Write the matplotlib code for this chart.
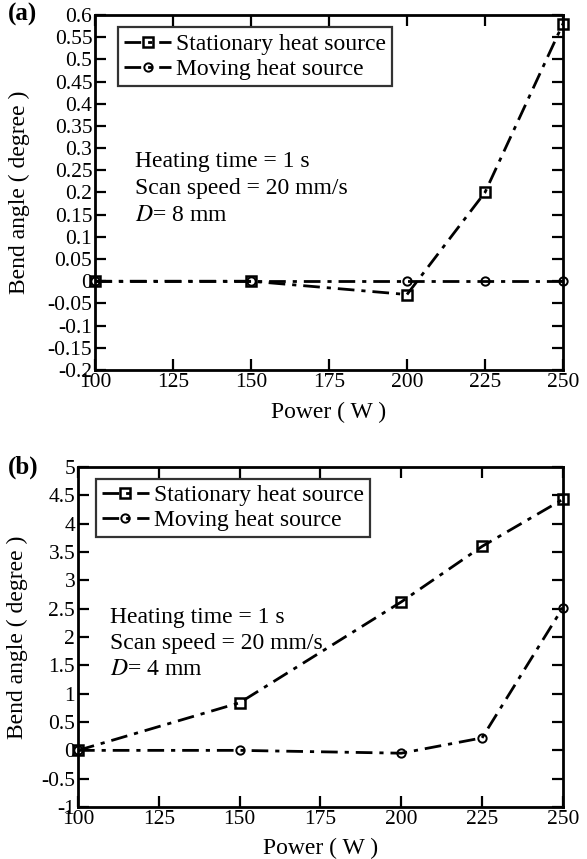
import numpy as np
import matplotlib
matplotlib.use("Agg")
import matplotlib.pyplot as plt
from matplotlib.ticker import FormatStrFormatter, MultipleLocator

plt.rcParams['font.family'] = ['Liberation Serif', 'DejaVu Serif']
plt.rcParams['axes.unicode_minus'] = False
plt.rcParams['mathtext.fontset'] = 'stix'

power = [100, 150, 200, 225, 250]

# panel (a), D = 8 mm
stat_a = [0.0, 0.0, -0.03, 0.2, 0.58]
move_a = [0.0, 0.0, 0.0, 0.0, 0.0]

# panel (b), D = 4 mm
stat_b = [0.0, 0.84, 2.62, 3.6, 4.43]
move_b = [0.0, 0.0, -0.05, 0.22, 2.52]

x_ticks = [100, 125, 150, 175, 200, 225, 250]


def panel(ax, stat, move, ylim, ystep, dlabel, tag, txt_xy, leg_box, ylab_x, tag_x):
    dash = (0, (6, 2.5, 1.5, 2.5))
    ax.plot(power, stat, color='black', lw=2.0, linestyle=dash, marker='s',
            ms=7, mfc='none', mew=1.8, label='Stationary heat source', clip_on=False)
    ax.plot(power, move, color='black', lw=2.0, linestyle=dash, marker='o',
            ms=6, mfc='none', mew=1.4, label='Moving heat source', clip_on=False)
    ax.set_xlim(100, 250)
    ax.set_ylim(*ylim)
    ax.set_xticks(x_ticks)
    ax.yaxis.set_major_locator(MultipleLocator(ystep))
    ax.yaxis.set_major_formatter(FormatStrFormatter('%g'))
    ax.tick_params(direction='in', top=True, right=True, length=8, width=1.6,
                   labelsize=15.5, pad=2)
    for s in ax.spines.values():
        s.set_linewidth(2.0)
    ax.set_xlabel('Power ( W )', fontsize=17)
    ax.xaxis.set_label_coords(0.5, -0.09)
    ax.set_ylabel('Bend angle ( degree )', fontsize=17)
    ax.yaxis.set_label_coords(ylab_x, 0.5)
    leg = ax.legend(loc='upper left', bbox_to_anchor=leg_box, fontsize=17,
                    frameon=True, fancybox=False, edgecolor='black',
                    handlelength=2.0, handletextpad=0.2, borderpad=0.25,
                    labelspacing=0.15, borderaxespad=0)
    leg.get_frame().set_linewidth(1.6)
    tx, ty = txt_xy
    ax.text(tx, ty, 'Heating time = 1 s', transform=ax.transAxes, fontsize=17, va='center')
    ax.text(tx, ty - 0.076, 'Scan speed = 20 mm/s', transform=ax.transAxes, fontsize=17, va='center')
    ax.text(tx, ty - 0.152, r'$D$= ' + dlabel, transform=ax.transAxes, fontsize=17, va='center')
    ax.text(tag_x, 1.0, tag, transform=ax.transAxes,
            fontsize=18, fontweight='bold', va='center', ha='center')


fig = plt.figure(figsize=(5.87, 8.59), dpi=100)
ax1 = fig.add_axes([0.162, 0.5693, 0.797, 0.4133])
ax2 = fig.add_axes([0.1329, 0.0605, 0.826, 0.3958])

panel(ax1, stat_a, move_a, (-0.2, 0.6), 0.05, '8 mm', '(a)', (0.085, 0.586),
      (0.049, 0.965), -0.139, -0.156)
panel(ax2, stat_b, move_b, (-1, 5), 0.5, '4 mm', '(b)', (0.066, 0.556),
      (0.037, 0.965), -0.103, -0.113)

fig.savefig('out.png', dpi=100)
